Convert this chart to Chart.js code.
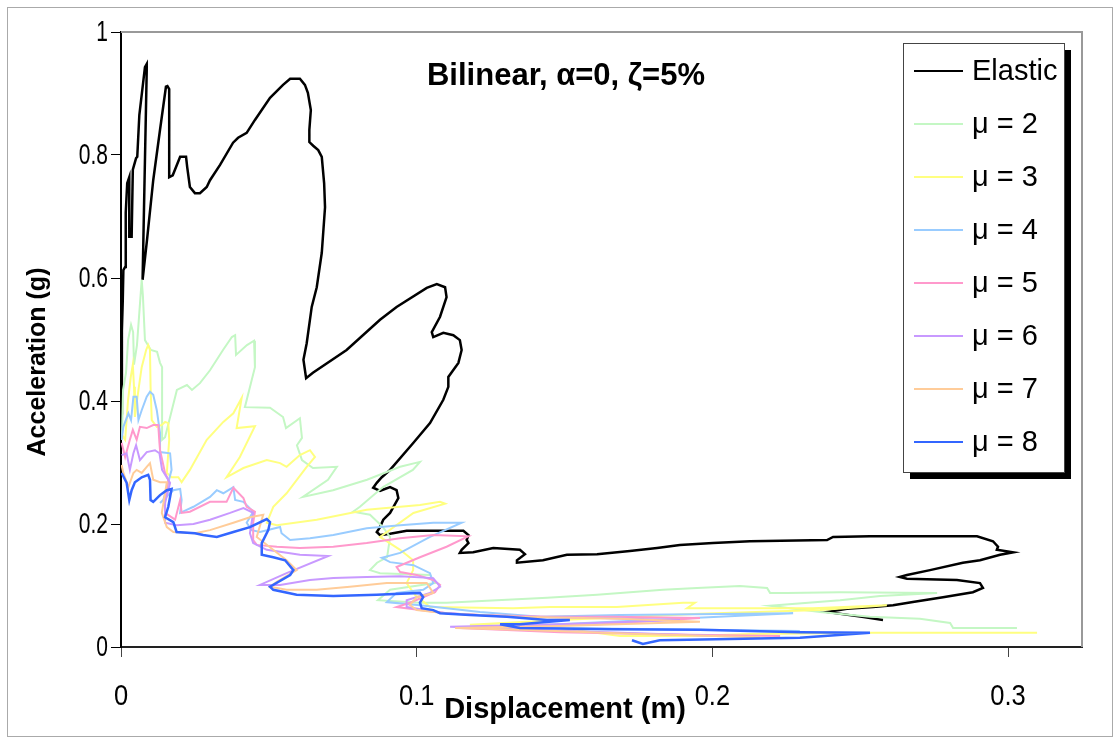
<!DOCTYPE html>
<html>
<head>
<meta charset="utf-8">
<script src="https://cdn.jsdelivr.net/npm/chart.js@4"></script>
<style>
body { margin: 0; background: #fff; }
#wrap { position: relative; width: 1120px; height: 739px; }
</style>
</head>
<body>
<div id="wrap"><canvas id="chart"></canvas></div>
<script>
// points: [displacement (m), acceleration (g)]
const elastic = [[0.0000,0.380],[0.0003,0.515],[0.0006,0.564],[0.0008,0.613],[0.0014,0.618],[0.0016,0.706],[0.0021,0.754],[0.0028,0.764],[0.0028,0.667],[0.0036,0.667],[0.0040,0.776],[0.0051,0.795],[0.0055,0.797],[0.0062,0.865],[0.0081,0.943],[0.0087,0.948],[0.0087,0.938],[0.0073,0.597],[0.0088,0.662],[0.0109,0.759],[0.0132,0.841],[0.0152,0.911],[0.0157,0.912],[0.0163,0.907],[0.0163,0.764],[0.0175,0.767],[0.0200,0.797],[0.0220,0.797],[0.0224,0.780],[0.0233,0.748],[0.0250,0.738],[0.0267,0.738],[0.0290,0.748],[0.0301,0.759],[0.0335,0.784],[0.0379,0.820],[0.0396,0.828],[0.0425,0.836],[0.0453,0.857],[0.0504,0.893],[0.0548,0.914],[0.0572,0.924],[0.0605,0.924],[0.0622,0.914],[0.0632,0.901],[0.0642,0.873],[0.0637,0.841],[0.0637,0.821],[0.0650,0.815],[0.0667,0.808],[0.0679,0.797],[0.0687,0.754],[0.0690,0.715],[0.0679,0.641],[0.0662,0.585],[0.0645,0.553],[0.0628,0.494],[0.0617,0.467],[0.0626,0.437],[0.0649,0.446],[0.0763,0.483],[0.0876,0.532],[0.0932,0.553],[0.1034,0.584],[0.1068,0.590],[0.1096,0.585],[0.1101,0.569],[0.1079,0.537],[0.1051,0.512],[0.1056,0.504],[0.1090,0.511],[0.1124,0.507],[0.1146,0.499],[0.1152,0.483],[0.1141,0.462],[0.1107,0.439],[0.1107,0.423],[0.1090,0.402],[0.1045,0.364],[0.0989,0.332],[0.0910,0.288],[0.0882,0.276],[0.0865,0.267],[0.0853,0.259],[0.0876,0.254],[0.0910,0.260],[0.0932,0.255],[0.0938,0.242],[0.0910,0.218],[0.0887,0.207],[0.0876,0.195],[0.0865,0.187],[0.0876,0.182],[0.0910,0.184],[0.0966,0.189],[0.1056,0.189],[0.1158,0.189],[0.1175,0.182],[0.1169,0.174],[0.1175,0.169],[0.1152,0.158],[0.1146,0.153],[0.1191,0.154],[0.1259,0.161],[0.1349,0.158],[0.1366,0.151],[0.1339,0.141],[0.1339,0.137],[0.1427,0.141],[0.1508,0.150],[0.1610,0.151],[0.1721,0.156],[0.1813,0.161],[0.1890,0.166],[0.2002,0.169],[0.2127,0.172],[0.2388,0.174],[0.2408,0.179],[0.2533,0.180],[0.2895,0.180],[0.2949,0.172],[0.2966,0.163],[0.2962,0.158],[0.3017,0.154],[0.2973,0.150],[0.2905,0.141],[0.2847,0.137],[0.2736,0.125],[0.2658,0.117],[0.2634,0.114],[0.2658,0.111],[0.2827,0.109],[0.2905,0.104],[0.2915,0.096],[0.2881,0.089],[0.2780,0.081],[0.2678,0.073],[0.2611,0.068],[0.2543,0.065],[0.2455,0.062],[0.2388,0.057],[0.2506,0.049],[0.2577,0.044]];

const mu2 = [[0.0003,0.337],[0.0007,0.418],[0.0017,0.446],[0.0024,0.499],[0.0034,0.524],[0.0041,0.512],[0.0044,0.459],[0.0054,0.491],[0.0070,0.597],[0.0074,0.572],[0.0081,0.499],[0.0101,0.483],[0.0122,0.480],[0.0132,0.462],[0.0139,0.455],[0.0139,0.337],[0.0149,0.341],[0.0189,0.418],[0.0223,0.426],[0.0240,0.418],[0.0267,0.429],[0.0301,0.450],[0.0345,0.483],[0.0375,0.504],[0.0386,0.507],[0.0389,0.475],[0.0426,0.491],[0.0450,0.498],[0.0453,0.455],[0.0419,0.390],[0.0504,0.389],[0.0548,0.374],[0.0558,0.356],[0.0605,0.372],[0.0612,0.340],[0.0595,0.328],[0.0612,0.304],[0.0649,0.291],[0.0730,0.293],[0.0700,0.272],[0.0615,0.244],[0.0717,0.255],[0.0832,0.272],[0.0944,0.293],[0.1011,0.301],[0.0987,0.288],[0.0886,0.260],[0.0808,0.228],[0.0785,0.220],[0.0842,0.215],[0.0886,0.195],[0.0910,0.179],[0.0900,0.146],[0.0866,0.137],[0.0842,0.125],[0.0876,0.120],[0.1045,0.117],[0.1062,0.104],[0.0910,0.093],[0.0869,0.076],[0.1011,0.072],[0.1102,0.072],[0.1441,0.080],[0.1610,0.085],[0.1833,0.093],[0.1948,0.096],[0.2093,0.099],[0.2185,0.096],[0.2195,0.088],[0.2252,0.088],[0.2432,0.089],[0.2760,0.088],[0.2567,0.083],[0.2432,0.076],[0.2195,0.067],[0.2364,0.057],[0.2533,0.049],[0.2702,0.046],[0.2804,0.039],[0.2814,0.031],[0.3030,0.031]];

const mu3 = [[0.0003,0.345],[0.0014,0.337],[0.0024,0.402],[0.0033,0.439],[0.0040,0.459],[0.0044,0.423],[0.0047,0.374],[0.0059,0.418],[0.0070,0.455],[0.0085,0.483],[0.0092,0.491],[0.0098,0.483],[0.0100,0.423],[0.0104,0.369],[0.0121,0.358],[0.0138,0.361],[0.0149,0.366],[0.0160,0.364],[0.0163,0.337],[0.0155,0.283],[0.0171,0.276],[0.0194,0.276],[0.0205,0.268],[0.0233,0.288],[0.0290,0.337],[0.0346,0.366],[0.0380,0.380],[0.0408,0.405],[0.0391,0.356],[0.0453,0.359],[0.0402,0.309],[0.0357,0.276],[0.0414,0.291],[0.0493,0.304],[0.0538,0.299],[0.0560,0.293],[0.0605,0.312],[0.0639,0.320],[0.0656,0.309],[0.0628,0.293],[0.0560,0.250],[0.0515,0.228],[0.0493,0.202],[0.0527,0.198],[0.0662,0.207],[0.0831,0.223],[0.1011,0.231],[0.1079,0.236],[0.1096,0.233],[0.0989,0.218],[0.0876,0.179],[0.0944,0.158],[0.0988,0.141],[0.0988,0.125],[0.0966,0.104],[0.0994,0.085],[0.1045,0.065],[0.1326,0.063],[0.1451,0.065],[0.1677,0.065],[0.1901,0.072],[0.1941,0.072],[0.1914,0.063],[0.2059,0.063],[0.2340,0.063],[0.2590,0.068],[0.2364,0.060],[0.1958,0.054],[0.1485,0.044],[0.1180,0.036],[0.1485,0.031],[0.1688,0.018],[0.1924,0.018],[0.2127,0.021],[0.2543,0.023],[0.3098,0.023]];

const mu4 = [[0.0002,0.337],[0.0008,0.358],[0.0025,0.380],[0.0034,0.369],[0.0042,0.407],[0.0053,0.407],[0.0059,0.369],[0.0070,0.385],[0.0087,0.407],[0.0098,0.415],[0.0109,0.410],[0.0121,0.385],[0.0132,0.348],[0.0132,0.317],[0.0166,0.315],[0.0171,0.288],[0.0160,0.268],[0.0143,0.239],[0.0132,0.234],[0.0177,0.255],[0.0200,0.257],[0.0205,0.239],[0.0200,0.218],[0.0222,0.223],[0.0245,0.228],[0.0301,0.244],[0.0324,0.255],[0.0346,0.250],[0.0380,0.260],[0.0386,0.239],[0.0414,0.236],[0.0447,0.220],[0.0425,0.202],[0.0442,0.190],[0.0470,0.187],[0.0538,0.195],[0.0543,0.185],[0.0572,0.174],[0.0639,0.177],[0.0718,0.182],[0.0831,0.193],[0.0944,0.198],[0.1056,0.202],[0.1152,0.202],[0.1045,0.179],[0.0944,0.153],[0.0882,0.145],[0.0910,0.138],[0.0989,0.133],[0.1045,0.120],[0.1056,0.104],[0.1022,0.093],[0.0932,0.088],[0.0899,0.073],[0.1011,0.068],[0.1214,0.057],[0.1417,0.049],[0.1688,0.052],[0.2273,0.055],[0.1789,0.044],[0.1349,0.034],[0.1485,0.031],[0.1958,0.028],[0.2296,0.026]];

const mu5 = [[0.0002,0.332],[0.0014,0.309],[0.0030,0.337],[0.0040,0.353],[0.0053,0.337],[0.0064,0.358],[0.0087,0.356],[0.0109,0.361],[0.0126,0.361],[0.0130,0.332],[0.0132,0.320],[0.0149,0.283],[0.0160,0.272],[0.0149,0.239],[0.0149,0.218],[0.0183,0.207],[0.0200,0.239],[0.0205,0.218],[0.0233,0.220],[0.0301,0.236],[0.0357,0.236],[0.0380,0.259],[0.0414,0.242],[0.0425,0.228],[0.0453,0.220],[0.0447,0.202],[0.0447,0.174],[0.0459,0.166],[0.0527,0.163],[0.0605,0.161],[0.0718,0.163],[0.0831,0.169],[0.0944,0.177],[0.1056,0.182],[0.1174,0.180],[0.1101,0.163],[0.1011,0.146],[0.0932,0.130],[0.0944,0.122],[0.1000,0.117],[0.1056,0.109],[0.1079,0.101],[0.1062,0.089],[0.0977,0.072],[0.0932,0.065],[0.1011,0.060],[0.1101,0.055],[0.1214,0.052],[0.1440,0.049],[0.1664,0.049],[0.1958,0.047],[0.1620,0.037],[0.1146,0.031],[0.1485,0.024],[0.1924,0.020],[0.2229,0.018]];

const mu6 = [[0.0002,0.312],[0.0019,0.315],[0.0030,0.288],[0.0042,0.315],[0.0051,0.328],[0.0064,0.304],[0.0087,0.317],[0.0115,0.320],[0.0130,0.315],[0.0139,0.288],[0.0166,0.267],[0.0149,0.234],[0.0149,0.202],[0.0188,0.198],[0.0245,0.200],[0.0301,0.207],[0.0369,0.218],[0.0414,0.226],[0.0447,0.218],[0.0436,0.185],[0.0447,0.169],[0.0493,0.158],[0.0605,0.150],[0.0701,0.148],[0.0560,0.120],[0.0470,0.101],[0.0538,0.101],[0.0639,0.109],[0.0718,0.112],[0.0831,0.114],[0.0944,0.115],[0.1056,0.112],[0.1079,0.098],[0.1045,0.088],[0.0966,0.076],[0.0966,0.065],[0.1101,0.055],[0.1282,0.050],[0.1620,0.047],[0.1890,0.044],[0.1485,0.037],[0.1113,0.033],[0.1214,0.031],[0.1688,0.023],[0.2026,0.018]];

const mu7 = [[0.0002,0.296],[0.0008,0.283],[0.0025,0.260],[0.0042,0.283],[0.0053,0.288],[0.0070,0.283],[0.0087,0.293],[0.0098,0.299],[0.0109,0.272],[0.0132,0.268],[0.0155,0.268],[0.0138,0.218],[0.0155,0.195],[0.0177,0.187],[0.0250,0.185],[0.0301,0.190],[0.0380,0.202],[0.0436,0.211],[0.0481,0.215],[0.0459,0.179],[0.0560,0.141],[0.0594,0.125],[0.0527,0.106],[0.0504,0.098],[0.0560,0.093],[0.0662,0.093],[0.0774,0.098],[0.0899,0.104],[0.1034,0.104],[0.1056,0.088],[0.1000,0.081],[0.0977,0.068],[0.1000,0.060],[0.1113,0.054],[0.1349,0.049],[0.1688,0.046],[0.1958,0.041],[0.1485,0.034],[0.1130,0.031],[0.1349,0.028],[0.1755,0.021],[0.2161,0.016]];

const mu8 = [[0.0002,0.283],[0.0019,0.267],[0.0028,0.239],[0.0036,0.255],[0.0047,0.268],[0.0070,0.276],[0.0092,0.280],[0.0098,0.272],[0.0100,0.239],[0.0109,0.236],[0.0132,0.247],[0.0155,0.255],[0.0171,0.257],[0.0160,0.228],[0.0149,0.211],[0.0177,0.203],[0.0188,0.187],[0.0250,0.185],[0.0278,0.182],[0.0324,0.179],[0.0380,0.187],[0.0436,0.195],[0.0493,0.208],[0.0504,0.203],[0.0498,0.190],[0.0476,0.169],[0.0476,0.150],[0.0515,0.146],[0.0555,0.141],[0.0583,0.125],[0.0572,0.117],[0.0504,0.098],[0.0515,0.093],[0.0594,0.085],[0.0718,0.083],[0.0865,0.085],[0.1011,0.088],[0.1022,0.081],[0.1011,0.072],[0.1017,0.063],[0.1056,0.060],[0.1079,0.055],[0.1180,0.052],[0.1305,0.049],[0.1441,0.044],[0.1518,0.044],[0.1349,0.037],[0.1282,0.037],[0.1349,0.031],[0.1664,0.029],[0.1958,0.028],[0.2296,0.024],[0.2533,0.023],[0.2296,0.015],[0.1822,0.011],[0.1765,0.005],[0.1728,0.011]];

const allSeries = [elastic, mu2, mu3, mu4, mu5, mu6, mu7, mu8];
const seriesNames = ['Elastic', 'μ = 2', 'μ = 3', 'μ = 4', 'μ = 5', 'μ = 6', 'μ = 7', 'μ = 8'];
const seriesColors = ['#000000', '#c4f7c4', '#ffff80', '#99ccff', '#ff99cc', '#c899ff', '#ffcc99', '#3366ff'];
const seriesWidths = [2.5, 2, 2, 2, 2, 2, 2, 2.5];

const xTicks = [0, 0.1, 0.2, 0.3];
const yTicks = [0, 0.2, 0.4, 0.6, 0.8, 1];

const chartTitle = 'Bilinear, α=0, ζ=5%';
const xTitle = 'Displacement (m)';
const yTitle = 'Acceleration (g)';

const tickFont = '30px "Liberation Sans", Arial, sans-serif';

// frame, narrow tick labels, titles and the boxed legend with its shadow
const decor = {
  id: 'decor',
  afterDraw(chart) {
    const ctx = chart.ctx;
    const a = chart.chartArea;
    const sx = chart.scales.x, sy = chart.scales.y;
    ctx.save();

    ctx.strokeStyle = '#999';
    ctx.lineWidth = 2;
    ctx.beginPath();
    ctx.moveTo(a.left, a.top);
    ctx.lineTo(a.right, a.top);
    ctx.lineTo(a.right, a.bottom);
    ctx.stroke();

    ctx.lineWidth = 1;
    ctx.strokeStyle = '#aaa';
    ctx.strokeRect(7.5, 7.5, 1105, 729);

    // tick labels, squeezed like the original's narrow face
    ctx.fillStyle = '#000';
    ctx.font = tickFont;
    ctx.textBaseline = 'middle';
    ctx.textAlign = 'center';
    xTicks.forEach(v => {
      ctx.save();
      ctx.translate(sx.getPixelForValue(v), 697);
      ctx.scale(0.85, 1);
      ctx.fillText(String(v), 0, 0);
      ctx.restore();
    });
    ctx.textAlign = 'right';
    yTicks.forEach(v => {
      ctx.save();
      ctx.translate(108, sy.getPixelForValue(v) + 1);
      ctx.scale(0.7, 1);
      ctx.fillText(String(v), 0, 0);
      ctx.restore();
    });

    ctx.textAlign = 'center';
    ctx.font = 'bold 31px "Liberation Sans", Arial, sans-serif';
    ctx.fillText(chartTitle, 566, 76);
    ctx.font = 'bold 29px "Liberation Sans", Arial, sans-serif';
    ctx.fillText(xTitle, 565, 710);
    ctx.save();
    ctx.translate(38, 362);
    ctx.rotate(-Math.PI / 2);
    ctx.font = 'bold 25px "Liberation Sans", Arial, sans-serif';
    ctx.fillText(yTitle, 0, 0);
    ctx.restore();

    // legend
    const bx = 903, by = 43, bw = 161, bh = 429;
    ctx.fillStyle = '#000';
    ctx.fillRect(bx + 7, by + 7, bw, bh);
    ctx.fillStyle = '#fff';
    ctx.fillRect(bx, by, bw, bh);
    ctx.strokeStyle = '#444';
    ctx.lineWidth = 1;
    ctx.strokeRect(bx + 0.5, by + 0.5, bw, bh);
    ctx.textAlign = 'left';
    ctx.font = '29px "Liberation Sans", Arial, sans-serif';
    chart.data.datasets.forEach((ds, i) => {
      const y = 71 + i * 53;
      ctx.strokeStyle = ds.borderColor;
      ctx.lineWidth = 2;
      ctx.beginPath();
      ctx.moveTo(914, y);
      ctx.lineTo(963, y);
      ctx.stroke();
      ctx.fillStyle = '#000';
      ctx.fillText(ds.label, 972, y + 1);
    });

    ctx.restore();
  }
};

new Chart(document.getElementById('chart'), {
  type: 'scatter',
  data: {
    datasets: allSeries.map((pts, i) => ({
      label: seriesNames[i],
      data: pts.map(p => ({ x: p[0], y: p[1] })),
      showLine: true,
      borderColor: seriesColors[i],
      backgroundColor: seriesColors[i],
      borderWidth: seriesWidths[i],
      pointRadius: 0,
      tension: 0,
      fill: false,
      order: allSeries.length - i
    }))
  },
  options: {
    responsive: true,
    maintainAspectRatio: false,
    animation: false,
    layout: { padding: { left: 0, top: 32, right: 38, bottom: 0 } },
    plugins: { legend: { display: false }, tooltip: { enabled: false } },
    scales: {
      x: {
        type: 'linear',
        min: 0,
        max: 0.325,
        afterBuildTicks: s => { s.ticks = xTicks.map(v => ({ value: v })); },
        afterFit: s => { s.height = 92; },
        grid: { drawOnChartArea: false, drawTicks: true, tickLength: 10, color: '#444' },
        border: { color: '#222', width: 2 },
        ticks: { display: false }
      },
      y: {
        type: 'linear',
        min: 0,
        max: 1,
        afterBuildTicks: s => { s.ticks = yTicks.map(v => ({ value: v })); },
        afterFit: s => { s.width = 121; },
        grid: { drawOnChartArea: false, drawTicks: true, tickLength: 10, color: '#000' },
        border: { color: '#000', width: 2 },
        ticks: { display: false }
      }
    }
  },
  plugins: [decor]
});
</script>
</body>
</html>
